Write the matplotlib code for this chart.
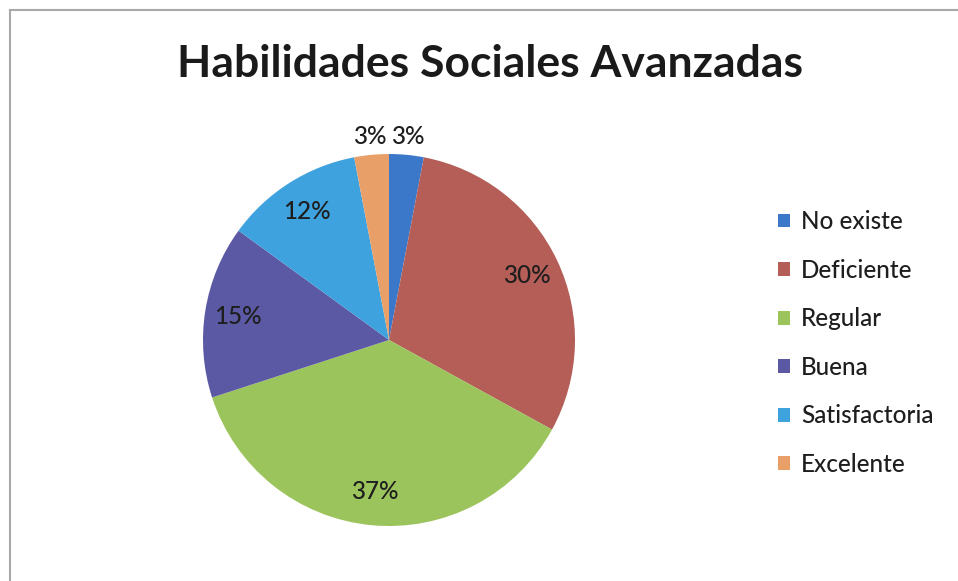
import matplotlib
matplotlib.use("Agg")
import matplotlib.pyplot as plt
from matplotlib.lines import Line2D
import numpy as np

plt.rcParams['font.family'] = ['Lato', 'DejaVu Sans']

# datos del grafico
categorias = ["No existe", "Deficiente", "Regular", "Buena", "Satisfactoria", "Excelente"]
porcentajes = [3, 30, 37, 15, 12, 3]
colores = ["#3b78c9", "#b45e57", "#9cc45c", "#5b59a4", "#3ea2de", "#e9a068"]
titulo = "Habilidades Sociales Avanzadas"

fig = plt.figure(figsize=(9.58, 5.81), dpi=100)
fig.patch.set_facecolor("white")

# marco gris (solo arriba e izquierda visibles en la imagen)
fig.add_artist(Line2D([9.5/958, 9.5/958], [0, 1 - 10/581], color="#a8a8a8", lw=1.5))
fig.add_artist(Line2D([9.5/958, 1], [1 - 10/581, 1 - 10/581], color="#a8a8a8", lw=1.5))

# circulo: centro (389, 340) px, radio 186 px
r_px = 186
ax = fig.add_axes([(389 - r_px)/958, (581 - 340 - r_px)/581, 2*r_px/958, 2*r_px/581])
wedges, textos, autotextos = ax.pie(porcentajes, colors=colores, startangle=90,
                                    counterclock=False, autopct='%1.0f%%',
                                    pctdistance=0.82,
                                    textprops=dict(fontsize=17.5, color="#1e1e1e",
                                                   fontweight="medium"))
ax.set_xlim(-1, 1)
ax.set_ylim(-1, 1)
ax.set_aspect("equal")

# las porciones pequenas llevan la etiqueta fuera
for w, t, p in zip(wedges, autotextos, porcentajes):
    if p < 5:
        ang = np.deg2rad((w.theta1 + w.theta2) / 2)
        t.set_position((1.1*np.cos(ang), 1.1*np.sin(ang)))
        t.set_clip_on(False)

fig.text(490/958, 1 - 64/581, titulo, ha="center", va="center",
         fontsize=32, fontweight="bold", color="#1a1a1a")

fig.legend(wedges, categorias, loc="center left", bbox_to_anchor=(778/958, 1 - 343/581),
           frameon=False, handlelength=0.5, handleheight=0.5,
           handletextpad=0.45, labelspacing=1.05, borderpad=0, borderaxespad=0,
           prop=dict(size=17.5, weight="medium"), labelcolor="#1e1e1e")

fig.savefig("out.png", dpi=100)
